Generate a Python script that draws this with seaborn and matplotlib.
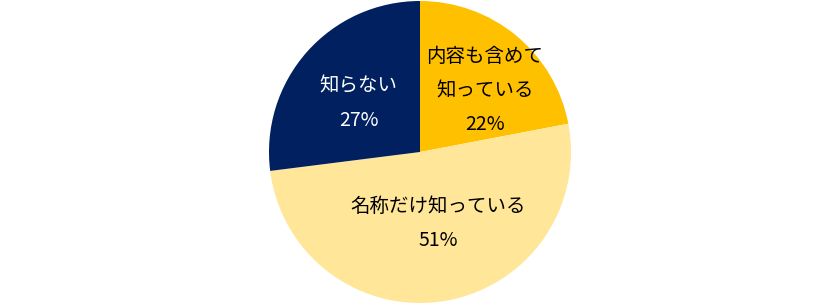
import matplotlib
matplotlib.use("Agg")
import matplotlib.pyplot as plt
import seaborn as sns
import numpy as np

sns.set_theme(style="white")
plt.rcParams['font.family'] = ['Noto Sans CJK JP', 'DejaVu Sans']

categories = ["内容も含めて\n知っている", "名称だけ知っている", "知らない"]
values = [22, 51, 27]
colors = ["#FFC000", "#FFE699", "#002060"]
text_colors = ["#000000", "#000000", "#FFFFFF"]
label_dist = [0.59, 0.49, 0.52]
label_angle_shift = [-7, 5, 3]

fig = plt.figure(figsize=(8.4, 3.06), dpi=100)
r_px = 151
cx, cy = 420, 152
ax = fig.add_axes([(cx - r_px) / 840, (306 - cy - r_px) / 306, 2 * r_px / 840, 2 * r_px / 306])
wedges, _ = ax.pie(values, colors=colors, startangle=90, counterclock=False,
                   radius=1.0, wedgeprops=dict(linewidth=0))
for w, cat, v, tc, d, s in zip(wedges, categories, values, text_colors, label_dist, label_angle_shift):
    ang = np.deg2rad((w.theta1 + w.theta2) / 2 + s)
    ax.text(d * np.cos(ang), d * np.sin(ang), f"{cat}\n{v}%", ha="center", va="center",
            color=tc, fontsize=14, linespacing=1.8)
ax.set_xlim(-1, 1)
ax.set_ylim(-1, 1)
ax.set_aspect("equal")
ax.axis("off")
fig.savefig("out.png", dpi=100)
